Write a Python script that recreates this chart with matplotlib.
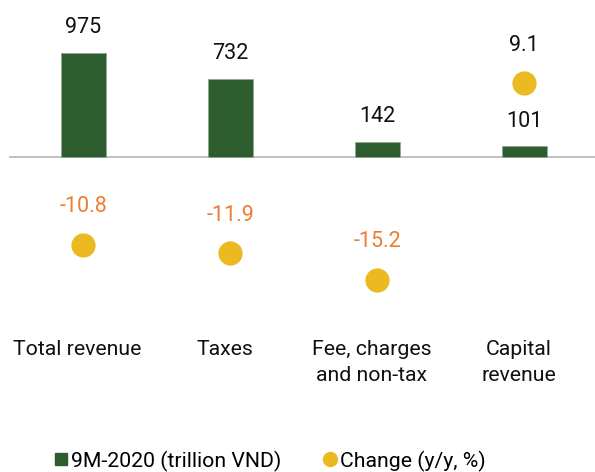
import numpy as np
import matplotlib.pyplot as plt
from matplotlib.lines import Line2D

plt.rcParams['font.family'] = ['Roboto', 'DejaVu Sans']

categories = ['Total revenue', 'Taxes', 'Fee, charges\nand non-tax', 'Capital\nrevenue']
revenue = [975, 732, 142, 101]      # 9M-2020, trillion VND
change = [-10.8, -11.9, -15.2, 9.1]  # y/y, %

green = '#2D5C2F'
yellow = '#EBB920'
orange = '#ED7D31'

fig = plt.figure(figsize=(5.95, 4.72), dpi=100)
ax = fig.add_axes([0, 0, 1, 1])
ax2 = ax.twinx()

x = np.arange(len(categories))

# bars on the primary axis
ax.bar(x, revenue, width=0.31, color=green, edgecolor='#8FA98F', linewidth=0.6, zorder=2)
ax.set_xlim(-0.567, 3.481)
ax.set_ylim(-2940, 1467)
ax.axhline(0, xmin=10 / 595, xmax=1, color='#B5B5B5', linewidth=1.2, zorder=1)

for xi, v in zip(x, revenue):
    ax.annotate(str(v), (xi, v), xytext=(0, 18), textcoords='offset points',
                ha='center', va='center', fontsize=15.5, color='#111111')

# change dots on the secondary axis
ax2.scatter(x, change, s=270, color=yellow, zorder=3)
ax2.set_ylim(-38.9, 19.4)

for xi, c in zip(x, change):
    col = orange if c < 0 else '#111111'
    ax2.annotate(f'{c:.1f}', (xi, c), xytext=(0, 27.5), textcoords='offset points',
                 ha='center', va='center', fontsize=15.5, color=col)

for xi, name in zip(x, categories):
    ax.text(xi - 0.04, 0.279, name, transform=ax.get_xaxis_transform(), ha='center', va='top',
            fontsize=15.3, color='#111111', linespacing=1.45)

for a in (ax, ax2):
    a.axis('off')

handles = [Line2D([], [], marker='s', linestyle='none', markersize=9, color=green),
           Line2D([], [], marker='o', linestyle='none', markersize=10, color=yellow)]
fig.legend(handles, ['9M-2020 (trillion VND)', 'Change (y/y, %)'], loc='center',
           bbox_to_anchor=(270 / 595, 1 - 461 / 472), ncol=2, frameon=False, fontsize=15.3,
           handlelength=0.6, handletextpad=0.15, columnspacing=2.0, borderpad=0)

fig.savefig('out.png', dpi=100)
